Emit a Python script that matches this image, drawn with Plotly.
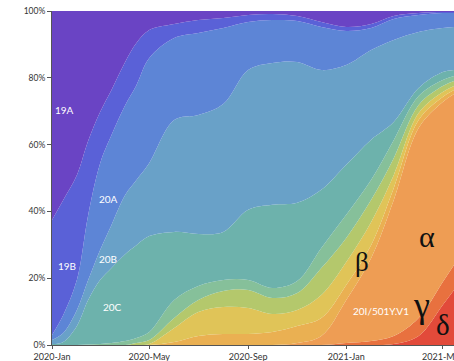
import plotly.graph_objects as go

dates = ["2020-01-01", "2020-01-15", "2020-02-01", "2020-02-15", "2020-03-01", "2020-03-15",
         "2020-04-01", "2020-04-15", "2020-05-01", "2020-06-01", "2020-07-01", "2020-08-01",
         "2020-09-01", "2020-10-01", "2020-11-01", "2020-12-01", "2021-01-01", "2021-02-01",
         "2021-03-01", "2021-04-01", "2021-05-01", "2021-05-15"]

# clade shares (%)
clade_19A = [62.6, 56.6, 49.1, 38.9, 30.2, 23.7, 15.3, 9.6, 5.7, 3.9, 2.7, 2.1, 1.2, 0.9, 1.5, 3.3, 4.8, 3.9, 1.5, 0.6, 0.3, 0.3]
clade_19B = [34.4, 34.4, 31.4, 22.2, 15.3, 13.5, 12.9, 12.6, 8.4, 4.2, 3.9, 3.0, 2.1, 1.8, 1.5, 1.5, 1.2, 1.2, 0.9, 0.6, 0.3, 0.3]
clade_20A = [1.5, 5.4, 9.0, 19.5, 26.0, 26.9, 26.9, 28.4, 31.4, 24.6, 24.6, 22.8, 14.4, 12.9, 12.3, 12.9, 10.2, 6.6, 6.3, 5.1, 4.5, 4.2]
clade_20B = [1.2, 2.7, 4.8, 6.0, 9.0, 12.9, 17.7, 19.5, 21.9, 33.5, 35.6, 38.3, 41.9, 42.5, 42.2, 35.9, 29.9, 26.9, 24.6, 16.8, 13.2, 12.9]
clade_20C = [0.3, 0.9, 5.7, 13.3, 19.2, 22.5, 26.0, 27.8, 28.7, 20.4, 15.6, 14.4, 21.0, 24.9, 23.4, 17.4, 15.0, 12.0, 5.4, 2.4, 2.4, 1.8]
clade_20D = [0, 0, 0, 0.15, 0.3, 0.6, 1.2, 1.5, 2.4, 5.4, 4.2, 3.3, 3.0, 3.0, 3.6, 6.0, 6.9, 6.0, 5.4, 2.7, 1.8, 1.5]
clade_20E = [0, 0, 0, 0, 0, 0, 0, 0.6, 1.2, 3.0, 3.6, 4.8, 5.4, 4.8, 5.1, 8.1, 7.2, 6.6, 5.1, 2.4, 1.8, 1.5]
clade_20G = [0, 0, 0, 0, 0, 0, 0, 0, 0.3, 4.2, 7.2, 8.1, 7.8, 5.4, 4.8, 6.9, 6.9, 6.9, 3.9, 2.1, 1.5, 1.2]
clade_beta = [0, 0, 0, 0, 0, 0, 0, 0, 0, 0.9, 2.7, 3.3, 3.3, 3.9, 5.1, 5.4, 4.5, 3.9, 3.6, 2.4, 1.5, 1.2]
clade_alpha = [0, 0, 0, 0, 0, 0, 0, 0, 0, 0, 0, 0, 0, 0, 0.6, 2.7, 12.9, 24.9, 40.7, 56.9, 53.9, 51.2]
clade_gamma = [0, 0, 0, 0, 0, 0, 0, 0, 0, 0, 0, 0, 0, 0, 0, 0, 0.6, 1.2, 2.4, 5.4, 6.9, 7.5]
clade_delta = [0, 0, 0, 0, 0, 0, 0, 0, 0, 0, 0, 0, 0, 0, 0, 0, 0, 0, 0.3, 2.7, 12.0, 16.5]

series = [
    ("δ", clade_delta, "#e24a3a"),
    ("γ", clade_gamma, "#e8713f"),
    ("20I/501Y.V1", clade_alpha, "#ee9d54"),
    ("β", clade_beta, "#eab052"),
    ("20G", clade_20G, "#e0c458"),
    ("20E", clade_20E, "#b4c86c"),
    ("20D", clade_20D, "#86c09a"),
    ("20C", clade_20C, "#6db2ac"),
    ("20B", clade_20B, "#69a1c8"),
    ("20A", clade_20A, "#5d85d6"),
    ("19B", clade_19B, "#5a61d7"),
    ("19A", clade_19A, "#6a44c4"),
]

fig = go.Figure()
for name, vals, col in series:
    fig.add_trace(go.Scatter(
        x=dates, y=vals, name=name, mode="lines",
        stackgroup="one", groupnorm="percent",
        line=dict(width=0, color=col, shape="spline", smoothing=1.0),
        fillcolor=col, hoverinfo="skip",
    ))

tick_dates = ["2020-01-01", "2020-05-01", "2020-09-01", "2021-01-01", "2021-05-01"]
tick_text = ["2020-Jan", "2020-May", "2020-Sep", "2021-Jan", "2021-May"]

fig.update_layout(
    width=454, height=361,
    margin=dict(l=52, r=0, t=11, b=16),
    paper_bgcolor="white", plot_bgcolor="white",
    showlegend=False,
    font=dict(family="Lato", size=9, color="#333"),
    xaxis=dict(range=["2020-01-01", "2021-05-15"], tickvals=tick_dates, ticktext=tick_text,
               showline=True, linecolor="#555", linewidth=1, ticks="outside", ticklen=3,
               tickcolor="#555", showgrid=False, zeroline=False, tickfont=dict(size=9),
               ticklabeloverflow="allow", automargin=False),
    yaxis=dict(range=[0, 100], tickvals=[0, 20, 40, 60, 80, 100],
               ticktext=["0%", "20%", "40%", "60%", "80%", "100%"],
               showline=True, linecolor="#555", linewidth=1, ticks="outside", ticklen=4,
               tickcolor="#555", showgrid=False, zeroline=False, tickfont=dict(size=8.5),
               ticklabeloverflow="allow", automargin=False),
)

white_labels = [("19A", "2020-01-16", 70.4), ("20A", "2020-03-11", 43.7), ("19B", "2020-01-20", 23.7),
                ("20B", "2020-03-11", 25.7), ("20C", "2020-03-16", 11.4), ("20I/501Y.V1", "2021-02-13", 10.2)]
for txt, xd, yv in white_labels:
    fig.add_annotation(x=xd, y=yv, text=txt, showarrow=False,
                       font=dict(family="Lato", size=10, color="white"))

greek = [("β", "2021-01-21", 24.9, 27), ("α", "2021-04-11", 32.6, 30),
         ("γ", "2021-04-05", 12.0, 36), ("δ", "2021-05-01", 6.0, 29)]
for txt, xd, yv, sz in greek:
    fig.add_annotation(x=xd, y=yv, text=txt, showarrow=False,
                       font=dict(family="Liberation Serif", size=sz, color="#111"))

fig.write_html("out.html", config={"displayModeBar": False},
               post_script="document.body.style.margin='0';document.body.style.overflow='hidden';")
